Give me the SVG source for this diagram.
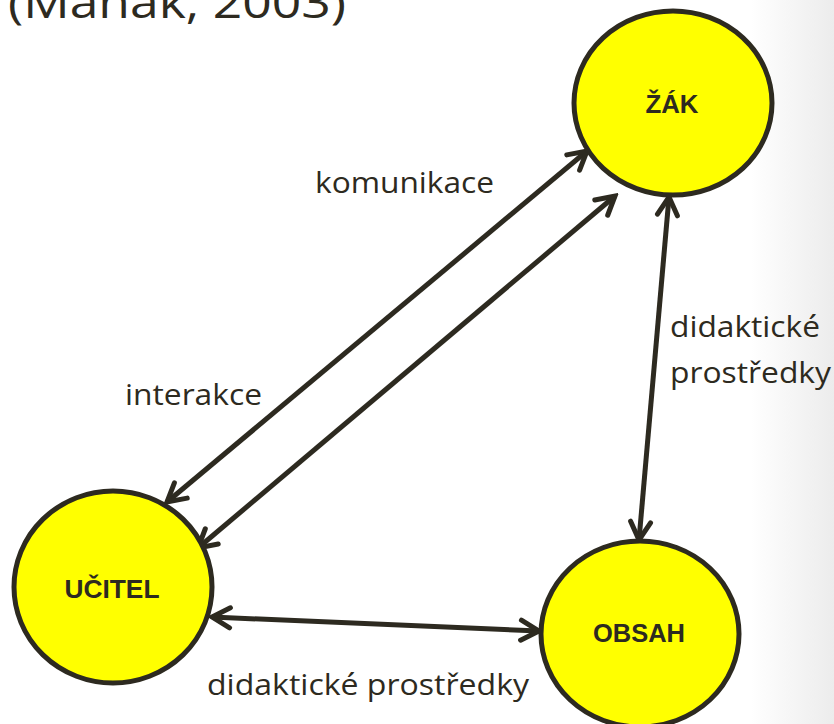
<svg xmlns="http://www.w3.org/2000/svg" width="834" height="724" viewBox="0 0 834 724">
<defs>
<linearGradient id="bg" x1="0" y1="0" x2="1" y2="0">
<stop offset="0.9" stop-color="#ffffff"/>
<stop offset="1" stop-color="#ececec"/>
</linearGradient>
<marker id="ah" viewBox="0 0 26 26" refX="22" refY="13" markerWidth="26" markerHeight="26" markerUnits="userSpaceOnUse" orient="auto-start-reverse">
<path d="M4,3 L22,13 L4,23" fill="none" stroke="#2d2a20" stroke-width="5" stroke-linecap="round" stroke-linejoin="miter"/>
</marker>
<style>
.node ellipse{fill:#ffff00;stroke:#2d2a20;stroke-width:5}
.node text{font-family:"Liberation Sans",Arial,sans-serif;font-weight:bold;font-size:26px;fill:#2d2a20;text-anchor:middle}
.conn line{stroke:#2d2a20;stroke-width:5;marker-start:url(#ah);marker-end:url(#ah)}
.lbl{font-family:"Open Sans","Noto Sans",sans-serif;font-size:30px;fill:#2d2a20}
</style>
</defs>
<rect width="834" height="724" fill="url(#bg)"/>
<text class="lbl" x="8" y="18" style="font-size:44px" textLength="338" lengthAdjust="spacingAndGlyphs">(Maňák, 2003)</text>
<g id="conn" class="conn">
<line x1="167" y1="502" x2="587" y2="151"/>
<line x1="198" y1="548" x2="615" y2="196"/>
<line x1="669" y1="197" x2="639" y2="540"/>
<line x1="212" y1="617" x2="539" y2="631"/>
</g>
<g id="zak" class="node">
<ellipse cx="673" cy="103" rx="99" ry="92"/>
<text x="672" y="113" textLength="53" lengthAdjust="spacingAndGlyphs">ŽÁK</text>
</g>
<g id="ucitel" class="node">
<ellipse cx="113" cy="587" rx="99" ry="96"/>
<text x="112" y="598" textLength="95" lengthAdjust="spacingAndGlyphs">UČITEL</text>
</g>
<g id="obsah" class="node">
<ellipse cx="640" cy="634" rx="99" ry="93"/>
<text x="639" y="642" textLength="92" lengthAdjust="spacingAndGlyphs">OBSAH</text>
</g>
<text class="lbl" x="315" y="193" textLength="179" lengthAdjust="spacingAndGlyphs">komunikace</text>
<text class="lbl" x="125" y="405" textLength="137" lengthAdjust="spacingAndGlyphs">interakce</text>
<text class="lbl" x="670" y="337" textLength="150" lengthAdjust="spacingAndGlyphs">didaktické</text>
<text class="lbl" x="670" y="383" textLength="161" lengthAdjust="spacingAndGlyphs">prostředky</text>
<text class="lbl" x="207" y="695" textLength="322" lengthAdjust="spacingAndGlyphs">didaktické prostředky</text>
</svg>
